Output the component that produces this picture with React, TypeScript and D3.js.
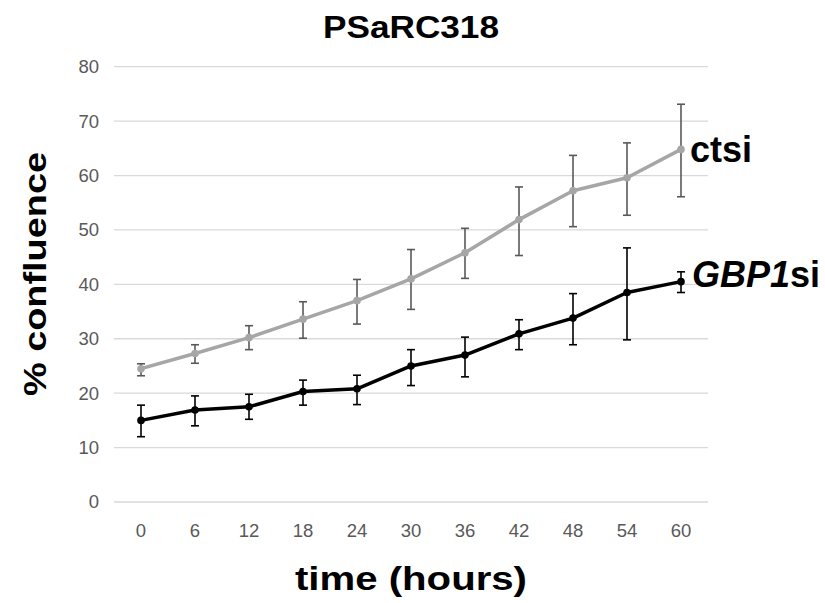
import * as d3 from "d3";

const hours = ["0", "6", "12", "18", "24", "30", "36", "42", "48", "54", "60"];
const yTicks = [0, 10, 20, 30, 40, 50, 60, 70, 80];

const ctsiMean = [24.5, 27.3, 30.2, 33.6, 37.0, 41.0, 45.8, 51.9, 57.2, 59.6, 64.8];
const ctsiLow = [23.2, 25.5, 28.0, 30.1, 32.7, 35.4, 41.1, 45.3, 50.6, 52.7, 56.1];
const ctsiHigh = [25.4, 28.9, 32.4, 36.8, 40.9, 46.4, 50.3, 57.9, 63.7, 66.0, 73.1];

const gbpMean = [15.0, 16.9, 17.5, 20.3, 20.8, 25.0, 27.0, 30.9, 33.8, 38.5, 40.5];
const gbpLow = [12.0, 14.0, 15.2, 17.8, 17.9, 21.4, 23.0, 28.0, 28.9, 29.8, 38.5];
const gbpHigh = [17.8, 19.5, 19.8, 22.4, 23.3, 28.0, 30.3, 33.5, 38.3, 46.7, 42.3];

const W = 825;
const H = 603;
const left = 114;
const right = 708;
const top = 66.7;
const bottom = 502;
const font = "'Liberation Sans', Arial, sans-serif";

function Series(props: any) {
  const { mean, low, high, color, barColor, x, y } = props;
  const line = d3
    .line<number>()
    .x((_, i) => x(hours[i]))
    .y((d) => y(d));
  return (
    <g>
      <path d={line(mean) || ""} fill="none" stroke={color} strokeWidth={3.5} strokeLinejoin="round" />
      {mean.map((m: number, i: number) => {
        const cx = x(hours[i]);
        return (
          <g key={i}>
            <line x1={cx} x2={cx} y1={y(low[i])} y2={y(high[i])} stroke={barColor} strokeWidth={1.6} />
            <line x1={cx - 4} x2={cx + 4} y1={y(low[i])} y2={y(low[i])} stroke={barColor} strokeWidth={1.6} />
            <line x1={cx - 4} x2={cx + 4} y1={y(high[i])} y2={y(high[i])} stroke={barColor} strokeWidth={1.6} />
            <circle cx={cx} cy={y(m)} r={3.8} fill={color} />
          </g>
        );
      })}
    </g>
  );
}

export default function App() {
  const x = d3.scalePoint<string>().domain(hours).range([left, right]).padding(0.5);
  const y = d3.scaleLinear().domain([0, 80]).range([bottom, top]);
  const midX = (left + right) / 2;

  return (
    <svg width={W} height={H} style={{ position: "absolute", left: 0, top: 0, background: "#fff" }}>
      <text
        x={midX}
        y={38}
        textAnchor="middle"
        fontFamily={font}
        fontWeight="bold"
        fontSize={32}
        textLength={176}
        lengthAdjust="spacingAndGlyphs"
      >
        PSaRC318
      </text>
      {yTicks.map((t) => (
        <g key={t}>
          <line x1={left} x2={right} y1={y(t)} y2={y(t)} stroke="#d9d9d9" strokeWidth={1.3} />
          <text x={99} y={y(t)} dy="0.35em" textAnchor="end" fontFamily={font} fontSize={18.5} fill="#595959">
            {t}
          </text>
        </g>
      ))}
      {hours.map((h) => (
        <text key={h} x={x(h)} y={537} textAnchor="middle" fontFamily={font} fontSize={18.5} fill="#595959">
          {h}
        </text>
      ))}
      <Series mean={ctsiMean} low={ctsiLow} high={ctsiHigh} color="#a6a6a6" barColor="#595959" x={x} y={y} />
      <Series mean={gbpMean} low={gbpLow} high={gbpHigh} color="#000000" barColor="#000000" x={x} y={y} />
      <text x={690} y={162} fontFamily={font} fontWeight="bold" fontSize={36}>
        ctsi
      </text>
      <text x={692} y={287} fontFamily={font} fontWeight="bold" fontSize={36}>
        <tspan fontStyle="italic">GBP1</tspan>si
      </text>
      <text
        x={midX}
        y={590}
        textAnchor="middle"
        fontFamily={font}
        fontWeight="bold"
        fontSize={34}
        textLength={232}
        lengthAdjust="spacingAndGlyphs"
      >
        time (hours)
      </text>
      <text
        transform="translate(46, 396) rotate(-90)"
        fontFamily={font}
        fontWeight="bold"
        fontSize={32}
        textLength={244}
        lengthAdjust="spacingAndGlyphs"
      >
        % confluence
      </text>
    </svg>
  );
}
